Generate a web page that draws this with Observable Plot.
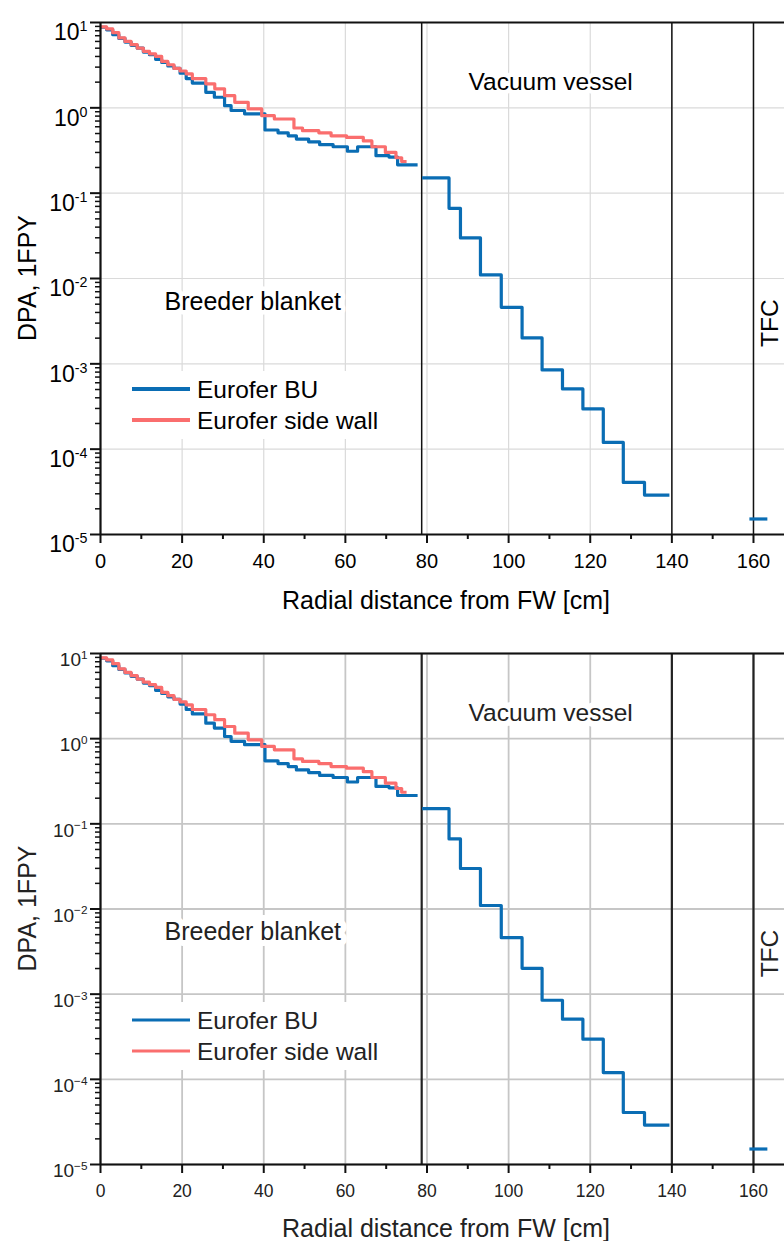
<!DOCTYPE html>
<html><head><meta charset="utf-8">
<script src="https://cdn.jsdelivr.net/npm/d3@7"></script>
<script src="https://cdn.jsdelivr.net/npm/@observablehq/plot@0.6"></script>
<style>
body{margin:0;background:#fff;}
#charts svg{display:block;}
</style>
</head><body><div id="charts"></div>
<script>
// ---- data ----
// Eurofer BU in the breeder blanket (step start positions, cm) and DPA values
const buDist = [0,1.5,3,4.5,6,7.5,9,10.5,12,13.5,15,16.5,18,19.5,21,22.5,25.8,27.9,30.4,32,35.3,40.3,43.5,46,48,51,53.7,57,60.5,63,67.5,70.7,72.8,77.7];
const buDpa  = [8.8,8.2,7.2,6.5,5.9,5.4,5.0,4.5,4.2,3.7,3.4,3.1,2.9,2.55,2.2,1.95,1.52,1.33,1.06,0.93,0.85,0.55,0.51,0.47,0.43,0.40,0.37,0.35,0.31,0.35,0.275,0.265,0.215,0.215];
// Eurofer side wall
const swDist = [0,1.5,3,4.5,6,7.5,9,10.5,12,13.5,15,16.5,18,19.5,21,22.5,25.8,28,30.4,32.9,36.2,39.5,42.6,47.4,49.5,53.5,56.5,60.3,64.4,66.5,69.8,72.4,73.8,75];
const swDpa  = [8.9,8.4,7.6,6.6,6.0,5.5,5.0,4.6,4.3,4.0,3.5,3.2,2.9,2.7,2.5,2.2,1.91,1.67,1.39,1.16,0.97,0.81,0.74,0.58,0.54,0.51,0.47,0.45,0.41,0.35,0.30,0.26,0.235,0.235];
// Eurofer BU through the vacuum vessel
const vvDist = [78.8,85.4,88.2,93.1,98.2,103.3,108.2,113.2,118.2,123.2,128.1,133.3,139.4];
const vvDpa  = [0.151,0.0665,0.0299,0.0110,0.0046,0.00201,0.000848,0.000508,0.000296,0.000120,0.0000408,0.0000290,0.0000290];
// Eurofer BU at the TF coil
const tfcDist = [159,163.4];
const tfcDpa  = [1.52e-5,1.52e-5];
// region boundaries (cm)
const boundaries = [78.7,140,160];
// labels
const seriesNames = ["Eurofer BU","Eurofer side wall"];
const regionNames = ["Breeder blanket","Vacuum vessel","TFC"];
const xTitle = "Radial distance from FW [cm]";
const yTitle = "DPA, 1FPY";
// ticks
const xMajorTicks = [0,20,40,60,80,100,120,140,160];
const xMinorTicks = [10,30,50,70,90,110,130,150];
const yDecades = [1e-5,1e-4,1e-3,1e-2,1e-1,1e0,1e1];
const yMinorTicks = [];
for (let k = -5; k <= 0; k++) for (let m = 2; m <= 9; m++) yMinorTicks.push(m * Math.pow(10, k));

const rows = (xs, ys) => xs.map((x, i) => ({x, y: ys[i]}));
const buRows = rows(buDist, buDpa), swRows = rows(swDist, swDpa);
const vvRows = rows(vvDist, vvDpa), tfcRows = rows(tfcDist, tfcDpa);

const BLUE = "#0a6db4", RED = "#fa6e6e";
const FONT = "'Liberation Sans', Arial, sans-serif";

function chart(o) {
  const svg = Plot.plot({
    width: 784, height: o.height,
    marginLeft: 100, marginRight: 0, marginTop: o.mt, marginBottom: o.mb,
    style: {fontFamily: FONT, color: o.text, background: "white", overflow: "visible"},
    x: {domain: [0, 167.6]},
    y: {type: "log", domain: [1e-5, 10]},
    marks: [
      Plot.gridX(xMajorTicks, {stroke: o.grid, strokeOpacity: 1, strokeWidth: o.gridW}),
      Plot.gridY(yDecades, {stroke: o.grid, strokeOpacity: 1, strokeWidth: o.gridW}),
      Plot.text([regionNames[0]], {x: 37.3, y: 0.0053, text: d => d, fontSize: 25, fill: o.text, stroke: "white", strokeWidth: o.halo}),
      Plot.text([regionNames[1]], {x: 110.3, y: 2.0, text: d => d, fontSize: 24.5, fill: o.text, stroke: "white", strokeWidth: o.halo}),
      Plot.ruleX(boundaries, {stroke: o.bound, strokeWidth: o.boundW}),
      Plot.text([regionNames[2]], {x: 164.2, y: 0.003, text: d => d, fontSize: 24.5, rotate: -90, fill: o.text}),
      Plot.line(buRows, {x: "x", y: "y", curve: "step-after", stroke: BLUE, strokeWidth: 3.2, strokeLinecap: "butt"}),
      Plot.line(swRows, {x: "x", y: "y", curve: "step-after", stroke: RED, strokeWidth: 3.2, strokeLinecap: "butt"}),
      Plot.line(vvRows, {x: "x", y: "y", curve: "step-after", stroke: BLUE, strokeWidth: 3.2, strokeLinecap: "butt"}),
      Plot.line(tfcRows, {x: "x", y: "y", curve: "step-after", stroke: BLUE, strokeWidth: 3.2, strokeLinecap: "butt"}),
      Plot.ruleY([10], {stroke: "#111", strokeWidth: 2.2}),
      Plot.ruleY([1e-5], {stroke: "#111", strokeWidth: 2.2}),
      Plot.ruleX([0], {stroke: "#111", strokeWidth: 2.2}),
      Plot.axisX({ticks: xMajorTicks, tickSize: 9, tickPadding: o.xPad, label: null, tickFormat: d => String(d), strokeWidth: 2, stroke: "#111", fill: o.text}),
      Plot.axisX({ticks: xMinorTicks, tickSize: 5, tickFormat: () => "", label: null, strokeWidth: 2, stroke: "#111"}),
      Plot.axisY({ticks: yDecades, tickSize: 10, tickPadding: 3, label: null, tickFormat: d => String(Math.round(Math.log10(d))), strokeWidth: 2, stroke: "#111", fill: o.text}),
      Plot.axisY({ticks: yMinorTicks, tickSize: 5, tickFormat: () => "", label: null, strokeWidth: 1.5, stroke: "#111"})
    ]
  });
  // tick label fonts
  svg.querySelectorAll('[aria-label="x-axis tick label"]').forEach(g => { g.style.fontSize = o.xFont + "px"; });
  svg.querySelectorAll('[aria-label="y-axis tick label"]').forEach(g => { g.style.fontSize = o.yFont + "px"; });
  // superscript exponents on the log axis
  svg.querySelectorAll('[aria-label="y-axis tick label"] text').forEach(t => {
    const e = t.textContent;
    if (!e) return;
    t.textContent = "10";
    t.setAttribute("dy", o.yDy);
    const ts = document.createElementNS("http://www.w3.org/2000/svg", "tspan");
    ts.setAttribute("font-size", "0.62em");
    ts.setAttribute("dy", "-0.62em");
    ts.textContent = e.replace("-", o.minus);
    t.appendChild(ts);
  });
  const sel = d3.select(svg);
  const plotTop = o.mt, plotBottom = o.height - o.mb;
  // axis titles
  sel.append("text").attr("transform", `translate(27,${(plotTop + plotBottom) / 2}) rotate(-90)`)
    .attr("text-anchor", "middle").attr("dy", "0.35em").attr("font-size", 25).attr("fill", o.text)
    .attr("font-family", FONT).text(yTitle);
  sel.append("text").attr("x", 446).attr("y", plotBottom + o.titleDy)
    .attr("text-anchor", "middle").attr("dy", "0.35em").attr("font-size", 25).attr("fill", o.text)
    .attr("font-family", FONT).text(xTitle);
  // legend
  const g = sel.append("g").attr("font-family", FONT).attr("text-anchor", "start");
  g.append("rect").attr("x", 124).attr("y", plotTop + 349).attr("width", 268).attr("height", 68).attr("fill", "white");
  [[BLUE, 367], [RED, 398]].forEach(([c, yy], i) => {
    g.append("line").attr("x1", 132).attr("x2", 190).attr("y1", plotTop + yy).attr("y2", plotTop + yy)
      .attr("stroke", c).attr("stroke-width", o.legW);
    g.append("text").attr("x", 197).attr("y", plotTop + yy).attr("dy", "0.35em")
      .attr("font-size", 24.5).attr("fill", o.text).text(seriesNames[i]);
  });
  return svg;
}

const root = document.getElementById("charts");
root.appendChild(chart({height: 620, mt: 22, mb: 86, text: "#000", grid: "#dadada", gridW: 1.2, halo: 9,
  bound: "#111", boundW: 1.5, xPad: 10, xFont: 20, yFont: 23, yDy: "0.45em", titleDy: 66, minus: "-", legW: 4}));
root.appendChild(chart({height: 621, mt: 33, mb: 77, text: "#222", grid: "#c6c6c6", gridW: 1.8, halo: 12,
  bound: "#222", boundW: 2.2, xPad: 11, xFont: 17.5, yFont: 19, yDy: "0.35em", titleDy: 64, minus: "\u2212", legW: 3}));
</script>
</body></html>
